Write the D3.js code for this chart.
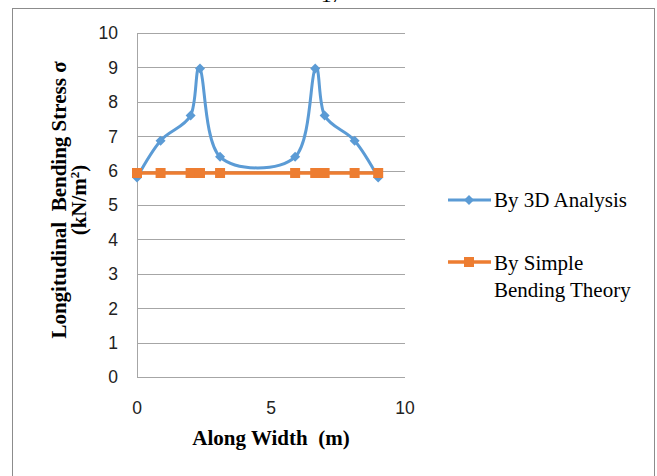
<!DOCTYPE html>
<html><head><meta charset="utf-8">
<script src="https://cdn.jsdelivr.net/npm/d3@7"></script>
<style>html,body{margin:0;padding:0;background:#fff;}svg{display:block;}</style>
</head><body>
<script>
const xValues = [0, 0.88, 2.0, 2.35, 3.1, 5.9, 6.65, 7.0, 8.12, 9.0];
const analysisValues = [5.8, 6.87, 7.6, 8.97, 6.4, 6.4, 8.97, 7.6, 6.87, 5.8];
const simpleValues = [5.93, 5.93, 5.93, 5.93, 5.93, 5.93, 5.93, 5.93, 5.93, 5.93];
const yTicks = [0,1,2,3,4,5,6,7,8,9,10];
const xTicks = [0,5,10];
const seriesNames = ["By 3D Analysis", "By Simple Bending Theory"];

const W = 657, H = 476;
const svg = d3.select("body").append("svg").attr("width", W).attr("height", H);

// page fragment at top (page number, clipped in the original too)
svg.append("text").attr("x", 321).attr("y", 2).attr("font-family", "Liberation Serif")
  .attr("font-size", 21).attr("fill", "#000").text("17");

// chart border
svg.append("rect").attr("x", 12.5).attr("y", 8.5).attr("width", 642).attr("height", 480)
  .attr("fill", "none").attr("stroke", "#8c8c8c").attr("stroke-width", 1);

const x = d3.scaleLinear().domain([0, 10]).range([137, 405]);
const y = d3.scaleLinear().domain([0, 10]).range([377, 33]);

// gridlines
const grid = svg.append("g");
grid.selectAll("line").data(yTicks).join("line")
  .attr("x1", x(0)).attr("x2", x(10))
  .attr("y1", d => Math.round(y(d)) + 0.5).attr("y2", d => Math.round(y(d)) + 0.5)
  .attr("stroke", "#a6a6a6").attr("stroke-width", 1);
// y axis line
svg.append("line").attr("x1", x(0) + 0.5).attr("x2", x(0) + 0.5).attr("y1", y(10)).attr("y2", y(0) + 0.5)
  .attr("stroke", "#a6a6a6");

// y tick labels
svg.append("g").selectAll("text").data(yTicks).join("text")
  .attr("x", 118).attr("y", d => y(d)).attr("dy", "0.36em")
  .attr("text-anchor", "end").attr("font-family", "Liberation Sans").attr("font-size", 17.5)
  .attr("fill", "#222").text(d => d);
// x tick labels
svg.append("g").selectAll("text").data(xTicks).join("text")
  .attr("x", d => x(d)).attr("y", 408).attr("dy", "0.36em")
  .attr("text-anchor", "middle").attr("font-family", "Liberation Sans").attr("font-size", 17.5)
  .attr("fill", "#222").text(d => d);

// axis titles
svg.append("text").attr("x", 271).attr("y", 445).attr("text-anchor", "middle")
  .attr("font-family", "Liberation Serif").attr("font-weight", "bold").attr("font-size", 21)
  .attr("fill", "#000").attr("xml:space", "preserve").text("Along Width  (m)");
const yt = svg.append("text").attr("transform", "translate(66,200) rotate(-90)")
  .attr("text-anchor", "middle").attr("font-family", "Liberation Serif").attr("font-weight", "bold")
  .attr("font-size", 21).attr("fill", "#000");
yt.append("tspan").attr("x", 0).attr("y", 0).attr("xml:space", "preserve").text("Longitudinal  Bending Stress σ");
yt.append("tspan").attr("x", 0).attr("y", 20).text("(kN/m");
yt.append("tspan").attr("dy", -7).attr("font-size", 13).text("2");
yt.append("tspan").attr("dy", 7).text(")");

const blue = "#5b9bd5", orange = "#ed7d31";

const ptsA = xValues.map((v, i) => [v, analysisValues[i]]);
const ptsS = xValues.map((v, i) => [v, simpleValues[i]]);

const lineSmooth = d3.line().x(d => x(d[0])).y(d => y(d[1])).curve(d3.curveCardinal.tension(0));
const lineStraight = d3.line().x(d => x(d[0])).y(d => y(d[1]));

// simple bending theory
svg.append("path").attr("d", lineStraight(ptsS)).attr("fill", "none")
  .attr("stroke", orange).attr("stroke-width", 3.5);
// 3D analysis
svg.append("path").attr("d", lineSmooth(ptsA)).attr("fill", "none")
  .attr("stroke", blue).attr("stroke-width", 3).attr("stroke-linejoin", "round");

const diamond = s => `M0,${-s}L${s},0L0,${s}L${-s},0Z`;
svg.append("g").selectAll("path").data(ptsA).join("path")
  .attr("transform", d => `translate(${x(d[0])},${y(d[1])})`)
  .attr("d", diamond(5)).attr("fill", blue);
svg.append("g").selectAll("rect").data(ptsS).join("rect")
  .attr("x", d => x(d[0]) - 5).attr("y", d => y(d[1]) - 5)
  .attr("width", 10).attr("height", 10).attr("fill", orange);

// legend
const lg = svg.append("g");
lg.append("line").attr("x1", 448).attr("x2", 491).attr("y1", 200).attr("y2", 200)
  .attr("stroke", blue).attr("stroke-width", 3);
lg.append("path").attr("transform", "translate(469,200)").attr("d", diamond(5)).attr("fill", blue);
lg.append("text").attr("x", 494).attr("y", 207).attr("font-family", "Liberation Serif")
  .attr("font-size", 21).attr("fill", "#000").text(seriesNames[0]);
lg.append("line").attr("x1", 448).attr("x2", 491).attr("y1", 262).attr("y2", 262)
  .attr("stroke", orange).attr("stroke-width", 3.5);
lg.append("rect").attr("x", 464).attr("y", 257).attr("width", 10).attr("height", 10).attr("fill", orange);
const lt = lg.append("text").attr("font-family", "Liberation Serif").attr("font-size", 21).attr("fill", "#000");
lt.append("tspan").attr("x", 494).attr("y", 270).text("By Simple");
lt.append("tspan").attr("x", 494).attr("y", 296.5).text("Bending Theory");
</script>
</body></html>
